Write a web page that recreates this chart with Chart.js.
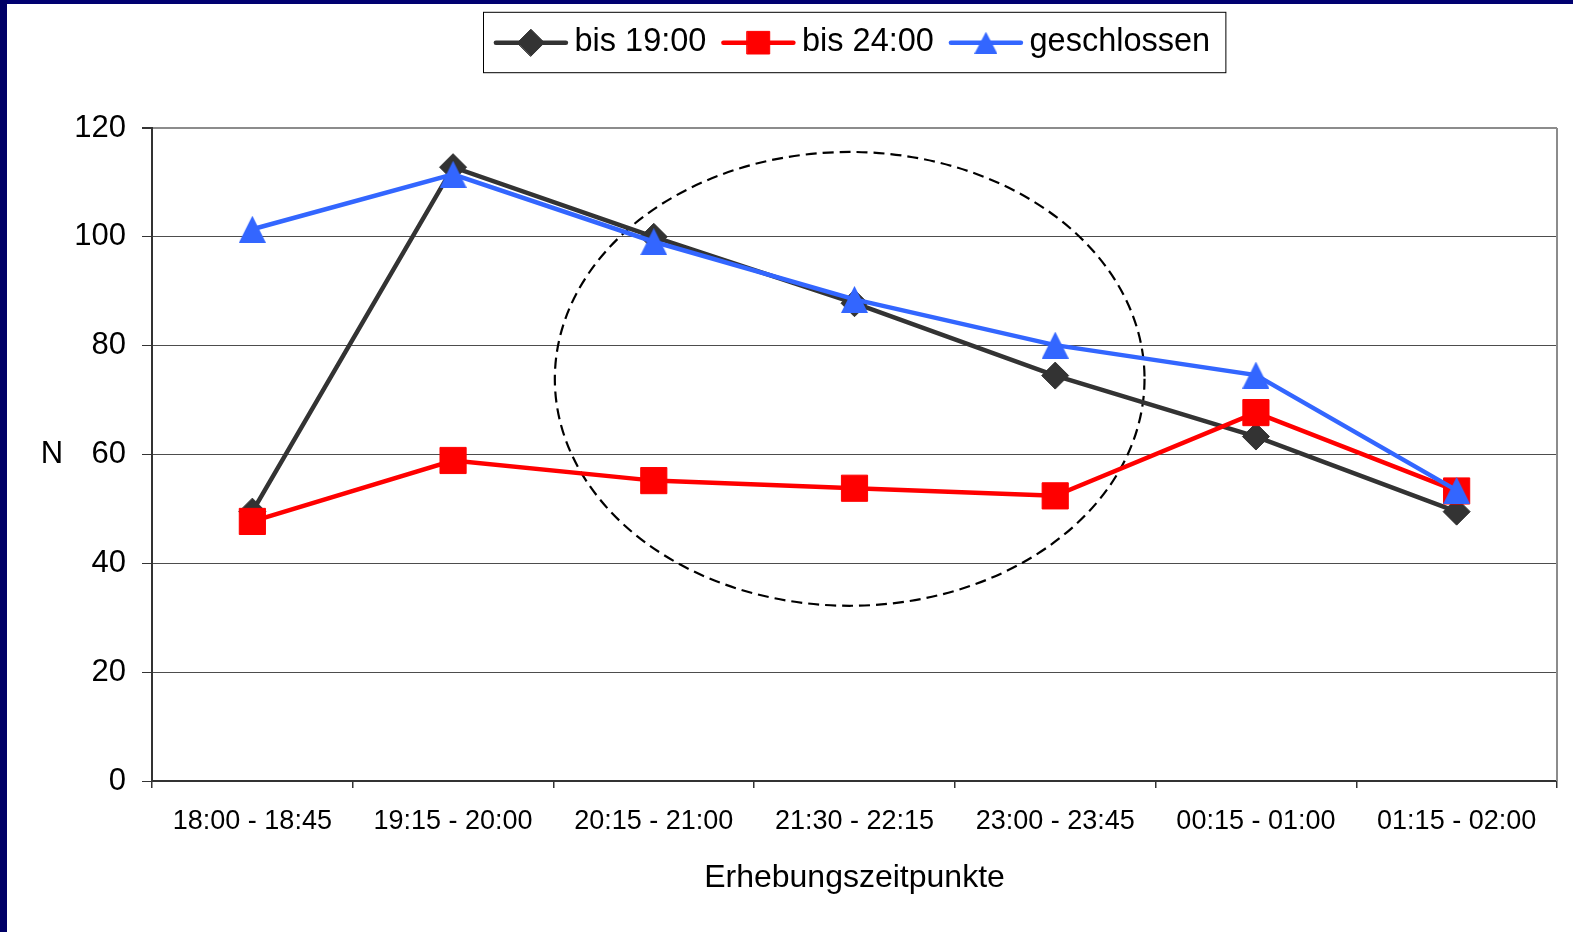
<!DOCTYPE html>
<html>
<head>
<meta charset="utf-8">
<script src="https://cdn.jsdelivr.net/npm/chart.js@4/dist/chart.umd.min.js"></script>
<style>
  html, body { margin: 0; padding: 0; background: #fff; }
  #wrap { width: 1573px; height: 932px; }
</style>
</head>
<body>
<div id="wrap"><canvas id="c" width="1573" height="932"></canvas></div>
<script>
// ---- data ----
const categories = ['18:00 - 18:45', '19:15 - 20:00', '20:15 - 21:00', '21:30 - 22:15', '23:00 - 23:45', '00:15 - 01:00', '01:15 - 02:00'];
const bis1900 = [49.5, 112.8, 100.0, 87.8, 74.5, 63.3, 49.5];
const bis2400 = [47.7, 58.9, 55.2, 53.8, 52.4, 67.7, 53.3];
const geschlossen = [101.4, 111.5, 99.1, 88.5, 80.1, 74.6, 53.4];
const seriesLabels = ['bis 19:00', 'bis 24:00', 'geschlossen'];
const yTicks = [0, 20, 40, 60, 80, 100, 120];
const yAxisLabel = 'N';
const xAxisLabel = 'Erhebungszeitpunkte';
// dashed ellipse annotation, in data units (category index / value)
const ellipseCenter = [2.976, 73.9];
const ellipseRadii = [1.469, 41.7];

const FONT = "'Liberation Sans', Arial, sans-serif";

function makeTriangle(w, h, color) {
  const cv = document.createElement('canvas');
  cv.width = w; cv.height = h;
  const g = cv.getContext('2d');
  g.fillStyle = color;
  g.beginPath();
  g.moveTo(w / 2, 0);
  g.lineTo(w, h);
  g.lineTo(0, h);
  g.closePath();
  g.fill();
  return cv;
}
const triBig = makeTriangle(27, 27, '#3366ff');
const triSmall = makeTriangle(23, 22, '#3366ff');

const plotPlugin = {
  id: 'plotExtras',
  beforeDraw(chart) {
    const c = chart.ctx;
    c.save();
    c.fillStyle = '#ffffff';
    c.fillRect(0, 0, chart.width, chart.height);
    c.restore();
  },
  beforeDatasetsDraw(chart) {
    const c = chart.ctx, a = chart.chartArea;
    const xs = chart.scales.x, ys = chart.scales.y;
    c.save();
    // right plot border
    c.strokeStyle = '#8c8c8c';
    c.lineWidth = 2;
    c.beginPath();
    c.moveTo(a.right, a.top);
    c.lineTo(a.right, a.bottom);
    c.stroke();
    // dashed ellipse
    const cx = xs.getPixelForValue(ellipseCenter[0]);
    const cy = ys.getPixelForValue(ellipseCenter[1]);
    const rx = xs.getPixelForValue(ellipseCenter[0] + ellipseRadii[0]) - cx;
    const ry = cy - ys.getPixelForValue(ellipseCenter[1] + ellipseRadii[1]);
    c.strokeStyle = '#000';
    c.lineWidth = 2.2;
    c.setLineDash([11, 6]);
    c.beginPath();
    c.ellipse(cx, cy, rx, ry, 0, 0, Math.PI * 2);
    c.stroke();
    c.restore();
  },
  afterDraw(chart) {
    const c = chart.ctx, a = chart.chartArea;
    c.save();
    // y-axis label "N" (horizontal)
    c.fillStyle = '#000';
    c.font = '31px ' + FONT;
    c.textAlign = 'center';
    c.textBaseline = 'middle';
    c.fillText(yAxisLabel, a.left - 100, (a.top + a.bottom) / 2);

    // legend
    c.font = '32.5px ' + FONT;
    const lineLen = 74, gapText = 6.6, gapItem = 15, padL = 10.4, padR = 15.7;
    const ds = chart.data.datasets;
    const widths = ds.map(d => c.measureText(d.label).width);
    let total = padL + padR;
    widths.forEach((w, i) => { total += lineLen + gapText + w + (i < ds.length - 1 ? gapItem : 0); });
    const boxTop = 12.3, boxH = 60.4;
    const boxLeft = Math.round((a.left + a.right) / 2 - total / 2) + 0.5;
    c.fillStyle = '#fff';
    c.fillRect(boxLeft, boxTop, total, boxH);
    c.strokeStyle = '#000';
    c.lineWidth = 1;
    c.strokeRect(boxLeft, boxTop, total, boxH);
    let x = boxLeft + padL;
    const ly = boxTop + 30.4;
    ds.forEach((d, i) => {
      c.strokeStyle = d.borderColor;
      c.lineWidth = 4.5;
      c.lineCap = 'round';
      c.beginPath();
      c.moveTo(x + 2, ly);
      c.lineTo(x + lineLen - 2, ly);
      c.stroke();
      const mx = x + lineLen / 2;
      if (d.pointStyle instanceof HTMLCanvasElement) {
        c.drawImage(triSmall, mx - triSmall.width / 2, ly - triSmall.height / 2);
      } else {
        c.fillStyle = d.pointBackgroundColor;
        c.strokeStyle = d.pointBorderColor;
        c.lineWidth = 1;
        const r = d.pointStyle === 'rect' ? 16 : d.pointRadius;
        Chart.helpers.drawPoint(c, { pointStyle: d.pointStyle, radius: r, borderWidth: 1, rotation: 0 }, mx, ly);
      }
      c.fillStyle = '#000';
      c.textAlign = 'left';
      c.textBaseline = 'alphabetic';
      c.fillText(d.label, x + lineLen + gapText, boxTop + 38.5);
      x += lineLen + gapText + widths[i] + gapItem;
    });

    // navy frame
    c.fillStyle = '#000070';
    c.fillRect(0, 0, chart.width, 4);
    c.fillStyle = '#000066';
    c.fillRect(0, 0, 7, chart.height);
    c.restore();
  }
};

new Chart(document.getElementById('c'), {
  type: 'line',
  data: {
    labels: categories,
    datasets: [
      {
        label: seriesLabels[0], data: bis1900, order: 3,
        borderColor: '#333333', backgroundColor: '#333333', borderWidth: 4.5,
        pointStyle: 'rectRot', pointRadius: 13.5, pointBorderWidth: 1,
        pointBackgroundColor: '#333333', pointBorderColor: '#333333', tension: 0
      },
      {
        label: seriesLabels[1], data: bis2400, order: 2,
        borderColor: '#ff0000', backgroundColor: '#ff0000', borderWidth: 4.5,
        pointStyle: 'rect', pointRadius: 18.5, pointBorderWidth: 1,
        pointBackgroundColor: '#ff0000', pointBorderColor: '#ff0000', tension: 0
      },
      {
        label: seriesLabels[2], data: geschlossen, order: 1,
        borderColor: '#3366ff', backgroundColor: '#3366ff', borderWidth: 4.5,
        pointStyle: triBig, pointRadius: 14, pointBorderWidth: 0,
        pointBackgroundColor: '#3366ff', pointBorderColor: '#3366ff', tension: 0
      }
    ]
  },
  options: {
    responsive: false,
    animation: false,
    events: [],
    layout: { autoPadding: false, padding: { top: 128, left: 0, right: 16, bottom: 0 } },
    plugins: { legend: { display: false }, tooltip: { enabled: false } },
    scales: {
      x: {
        type: 'category',
        offset: true,
        grid: { display: true, offset: true, drawOnChartArea: false, drawTicks: true, tickLength: 7, tickColor: '#333', lineWidth: 1.5 },
        border: { display: true, color: '#333', width: 2 },
        ticks: { font: { family: FONT, size: 27 }, color: '#000', padding: 17.5, maxRotation: 0, autoSkip: false },
        title: { display: true, text: xAxisLabel, font: { family: FONT, size: 32 }, color: '#000', padding: { top: 0, bottom: 35 } },
        afterFit(s) { s.height = 151; s.paddingLeft = 0; s.paddingRight = 0; }
      },
      y: {
        min: 0, max: 120,
        afterBuildTicks(s) { s.ticks = yTicks.map(v => ({ value: v })); },
        ticks: { font: { family: FONT, size: 31 }, color: '#000', padding: 16 },
        grid: {
          color: ctx => (ctx.tick && ctx.tick.value === 120 ? '#8c8c8c' : '#4d4d4d'),
          lineWidth: ctx => (ctx.tick && ctx.tick.value === 120 ? 2 : 1),
          tickLength: 10, tickColor: '#333', drawTicks: true
        },
        border: { display: true, color: '#333', width: 2 },
        afterFit(s) { s.width = 152; }
      }
    }
  },
  plugins: [plotPlugin]
});
</script>
</body>
</html>
